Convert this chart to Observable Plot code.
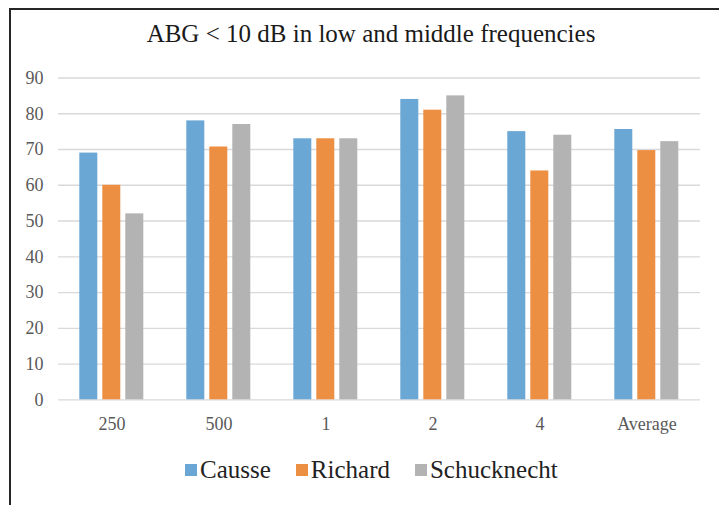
<!DOCTYPE html>
<html><head><meta charset="utf-8">
<script src="https://cdn.jsdelivr.net/npm/d3@7"></script>
<script src="https://cdn.jsdelivr.net/npm/@observablehq/plot@0.6"></script>
<style>
body{margin:0;background:#fff;width:719px;height:505px;overflow:hidden;position:relative;font-family:"Liberation Serif","Times New Roman",serif}
#frame{position:absolute;left:9px;top:8px;width:800px;height:600px;border-left:2px solid #262626;border-top:2px solid #262626}
#title{position:absolute;left:0;width:742px;top:21px;text-align:center;font-family:"Liberation Serif","Times New Roman",serif;font-size:25px;line-height:25px;color:#1a1a1a}
#chart{position:absolute;left:0;top:60px}
#legend{position:absolute;left:185px;top:457px}
.lg-swatches{min-height:0 !important;margin:0 !important;line-height:25px;font-family:"Liberation Serif","Times New Roman",serif !important}
.lg-swatch{margin-right:25px !important;}
.lg-swatch > svg{margin-right:3px !important;}
</style>
</head><body>
<div id="frame"></div>
<div id="title">ABG &lt; 10 dB in low and middle frequencies</div>
<div id="chart"></div>
<div id="legend"></div>
<script>
const categories = ["250", "500", "1", "2", "4", "Average"];
const series = ["Causse", "Richard", "Schucknecht"];
const causse = [69, 78, 73, 84, 75, 75.6];
const richard = [60, 70.7, 73, 81, 64, 69.7];
const schucknecht = [52, 77, 73, 85, 74, 72.2];
const yTicks = [0, 10, 20, 30, 40, 50, 60, 70, 80, 90];

const colors = ["#6aa7d5", "#ec8f42", "#b3b3b3"];
const seriesValues = [causse, richard, schucknecht];
const rows = categories.flatMap((c, i) => series.map((s, j) => ({category: c, series: s, value: seriesValues[j][i]})));

const chart = Plot.plot({
  width: 719, height: 380,
  marginLeft: 57.7, marginRight: 19, marginTop: 17.5, marginBottom: 40.7,
  style: {fontFamily: "'Liberation Serif', 'Times New Roman', serif", fontSize: "18px", color: "#595959", background: "transparent"},
  fx: {domain: categories, padding: 0, axis: "bottom", tickSize: 0, tickPadding: 17, label: null},
  x: {domain: series, axis: null, paddingInner: 0.215, paddingOuter: 0.904},
  y: {domain: [0, 90], ticks: yTicks, tickSize: 0, tickPadding: 15, label: null},
  color: {domain: series, range: colors},
  marks: [
    Plot.gridY(yTicks, {stroke: "#d9d9d9", strokeOpacity: 1, strokeWidth: 1.3}),
    Plot.barY(rows, {fx: "category", x: "series", y: "value", fill: "series"})
  ]
});
document.getElementById("chart").appendChild(chart);

const legend = Plot.legend({
  color: {type: "ordinal", domain: series, range: colors},
  swatchWidth: 12, swatchHeight: 12,
  className: "lg",
  style: {fontFamily: "'Liberation Serif', 'Times New Roman', serif", fontSize: "25px", color: "#222"}
});
document.getElementById("legend").appendChild(legend);
</script>
</body></html>
